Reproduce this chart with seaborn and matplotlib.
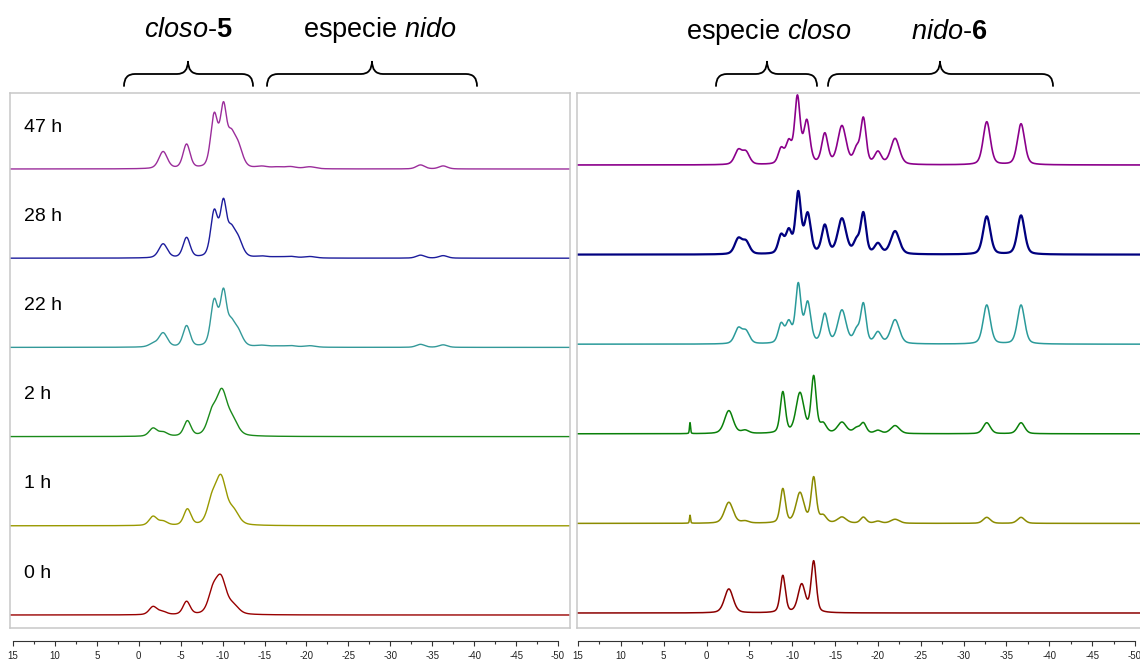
import numpy as np
import pandas as pd
import matplotlib
matplotlib.use("Agg")
import matplotlib.pyplot as plt
from matplotlib.path import Path
from matplotlib.patches import PathPatch
import seaborn as sns

sns.set_style("white")
plt.rcParams['font.family'] = ['Liberation Sans', 'DejaVu Sans']
plt.rcParams['text.color'] = 'black'
plt.rcParams['mathtext.fontset'] = 'custom'
plt.rcParams['mathtext.rm'] = 'Liberation Sans'
plt.rcParams['mathtext.it'] = 'Liberation Sans:italic'
plt.rcParams['mathtext.bf'] = 'Liberation Sans:bold'
plt.rcParams['axes.unicode_minus'] = False

# traces from bottom to top
TIMES = ["0 h", "1 h", "2 h", "22 h", "28 h", "47 h"]
LEFT_COLORS = ["#990000", "#999900", "#1a8a1a", "#339999", "#1c1c9c", "#9b2d9b"]
RIGHT_COLORS = ["#8b0000", "#8b8b00", "#0a800a", "#2a9a9a", "#00007f", "#8b008b"]

# peaks (ppm, height, fwhm)
LEFT_0H = [(-1.7, 8, 1.1), (-2.8, 3, 1.2), (-5.7, 13, 1.0), (-8.8, 19, 1.3),
           (-9.8, 35, 1.5), (-11.3, 8, 1.5)]
LEFT_1H = [(-1.7, 9, 1.1), (-2.9, 4, 1.2), (-5.8, 16, 1.0), (-8.7, 21, 1.3),
           (-9.8, 46, 1.5), (-11.3, 13, 1.5)]
LEFT_2H = [(-1.7, 8, 1.1), (-2.9, 4, 1.2), (-5.8, 15, 1.0), (-8.7, 20, 1.3),
           (-9.9, 43, 1.5), (-11.2, 14, 1.5)]
LEFT_22H = [(-1.7, 3, 1.2), (-2.9, 14, 1.2), (-5.7, 21, 1.0), (-9.0, 45, 1.0),
            (-10.1, 52, 0.9), (-11.0, 18, 1.0), (-11.8, 15, 1.3),
            (-14.7, 1.5, 1.6), (-16.5, 1, 1.6), (-18.1, 1.5, 1.6), (-20.4, 1.5, 1.6),
            (-33.6, 3, 1.2), (-36.3, 2.5, 1.2)]
LEFT_28H = [(-2.9, 14, 1.2), (-5.7, 20, 1.0), (-9.0, 45, 1.0), (-10.1, 52, 0.9),
            (-11.0, 21, 1.0), (-11.8, 18, 1.3),
            (-14.7, 1.5, 1.6), (-16.5, 1, 1.6), (-18.1, 1.5, 1.6), (-20.4, 1.5, 1.6),
            (-33.6, 3, 1.2), (-36.3, 2.5, 1.2)]
LEFT_47H = [(-2.9, 17, 1.2), (-5.7, 24, 1.0), (-9.0, 52, 1.0), (-10.1, 58, 0.9),
            (-11.0, 25, 1.0), (-11.8, 22, 1.3),
            (-14.7, 2, 1.6), (-16.5, 1.5, 1.6), (-18.1, 2, 1.6), (-20.4, 2, 1.6),
            (-33.6, 4, 1.2), (-36.3, 3, 1.2)]

RIGHT_0H = [(-2.6, 24, 1.2), (-8.9, 37, 0.7), (-11.1, 28, 1.0), (-12.5, 51, 0.7)]
RIGHT_1H = [(1.93, 8, 0.15), (-2.6, 21, 1.2), (-4.5, 2, 1.0), (-8.9, 34, 0.7),
            (-10.9, 30, 1.1), (-12.5, 45, 0.7), (-13.6, 7, 0.9), (-15.8, 6, 1.2),
            (-18.3, 6, 0.8), (-20.0, 2, 0.9), (-22.0, 4, 1.2),
            (-32.7, 6, 1.0), (-36.7, 6, 1.0)]
RIGHT_2H = [(1.93, 11, 0.15), (-2.6, 23, 1.2), (-4.5, 3, 1.0), (-8.9, 41, 0.7),
            (-10.9, 40, 1.1), (-12.5, 56, 0.7), (-13.6, 9, 0.9), (-15.8, 11, 1.2),
            (-17.5, 5, 0.9), (-18.3, 10, 0.8), (-20.0, 3, 0.9), (-22.0, 8, 1.2),
            (-32.7, 11, 1.0), (-36.7, 11, 1.0)]
RIGHT_22H = [(-3.7, 15, 1.0), (-4.6, 12, 1.0), (-8.7, 19, 0.8), (-9.6, 20, 0.8),
             (-10.7, 58, 0.75), (-11.8, 40, 0.85), (-13.8, 29, 0.85), (-15.8, 33, 1.15),
             (-17.5, 12, 0.8), (-18.3, 39, 0.75), (-20.0, 11, 0.9), (-22.0, 24, 1.2),
             (-32.7, 39, 1.0), (-36.7, 39, 1.0)]
RIGHT_28H = [(-3.7, 15, 1.0), (-4.6, 12, 1.0), (-8.7, 18, 0.8), (-9.6, 22, 0.8),
             (-10.7, 60, 0.75), (-11.8, 39, 0.85), (-13.8, 28, 0.85), (-15.8, 35, 1.15),
             (-17.5, 12, 0.8), (-18.3, 40, 0.75), (-20.0, 10, 0.9), (-22.0, 23, 1.2),
             (-32.7, 38, 1.0), (-36.7, 39, 1.0)]
RIGHT_47H = [(-3.7, 14, 1.0), (-4.6, 12, 1.0), (-8.7, 15, 0.8), (-9.6, 21, 0.8),
             (-10.6, 66, 0.75), (-11.7, 42, 0.85), (-13.8, 30, 0.85), (-15.8, 38, 1.15),
             (-17.5, 14, 0.8), (-18.3, 45, 0.75), (-20.0, 12, 0.9), (-22.0, 26, 1.2),
             (-32.7, 43, 1.0), (-36.7, 41, 1.0)]

LEFT_PEAKS = [LEFT_0H, LEFT_1H, LEFT_2H, LEFT_22H, LEFT_28H, LEFT_47H]
RIGHT_PEAKS = [RIGHT_0H, RIGHT_1H, RIGHT_2H, RIGHT_22H, RIGHT_28H, RIGHT_47H]

HEADERS_LEFT = [r"$\mathit{closo}$-$\mathbf{5}$", r"especie $\mathit{nido}$"]
HEADERS_RIGHT = [r"especie $\mathit{closo}$", r"$\mathit{nido}$-$\mathbf{6}$"]

PPM_TICKS = [15, 10, 5, 0, -5, -10, -15, -20, -25, -30, -35, -40, -45, -50]


def spectrum(ppm, peaks):
    y = np.zeros_like(ppm)
    for c, h, w in peaks:
        d = (ppm - c) / (w / 2)
        y += h * (0.35 / (1 + d ** 2) + 0.65 * np.exp(-np.log(2) * d ** 2))
    return y


def build_df(peaks_list):
    ppm = np.linspace(16, -52, 6801)
    frames = []
    for label, peaks in zip(TIMES, peaks_list):
        frames.append(pd.DataFrame({"ppm": ppm, "intensity": spectrum(ppm, peaks),
                                    "trace": label}))
    return pd.concat(frames, ignore_index=True)


W, H = 1140, 662
fig = plt.figure(figsize=(W / 100, H / 100), dpi=100)


def px_box(x0, x1, y0, y1):
    return [x0 / W, (H - y1) / H, (x1 - x0) / W, (y1 - y0) / H]


def draw_panel(rect, xlim, peaks_list, colors, offset0, step, lws, labels):
    ax = fig.add_axes(rect)
    df = build_df(peaks_list)
    for i, (label, color) in enumerate(zip(TIMES, colors)):
        sub = df[df["trace"] == label].copy()
        sub["y"] = sub["intensity"] + offset0 + i * step
        sns.lineplot(data=sub, x="ppm", y="y", color=color, lw=lws[i],
                     estimator=None, sort=False, ax=ax, legend=False)
        if labels:
            ax.text(0.025, offset0 + i * step + 42, label, fontsize=14,
                    va="center", ha="left", transform=ax.get_yaxis_transform())
    ax.set_xlim(*xlim)
    ax.set_ylim(0, 535)
    ax.set_xticks([])
    ax.set_yticks([])
    ax.set_xlabel("")
    ax.set_ylabel("")
    for s in ax.spines.values():
        s.set_color("#c8c8c8")
        s.set_linewidth(1.1)
    return ax


def draw_scale(rect, xlim):
    ax = fig.add_axes(rect)
    ax.set_xlim(*xlim)
    ax.set_ylim(0, 1)
    for k in ["left", "right", "top"]:
        ax.spines[k].set_visible(False)
    ax.spines["bottom"].set_bounds(-50, 15)
    ax.spines["bottom"].set_color("#333333")
    ax.spines["bottom"].set_linewidth(0.8)
    ax.set_yticks([])
    ax.set_xticks(PPM_TICKS)
    ax.set_xticklabels([str(t) for t in PPM_TICKS], fontsize=7, color="#222222")
    ax.set_xticks([t - 2.5 for t in PPM_TICKS[:-1]], minor=True)
    ax.tick_params(axis="x", which="major", direction="out", length=3.5,
                   width=0.8, color="#333333", pad=4, bottom=True)
    ax.tick_params(axis="x", which="minor", direction="out", length=1.8,
                   width=0.8, color="#333333", bottom=True)
    ax.patch.set_alpha(0)


left_xlim = (15.36, -51.43)
right_xlim = (15.12, -50.70)

draw_panel(px_box(10, 570, 93, 628), left_xlim, LEFT_PEAKS, LEFT_COLORS,
           13, 89.2, [1.0] * 6, True)
draw_panel(px_box(577, 1141, 93, 628), right_xlim, RIGHT_PEAKS, RIGHT_COLORS,
           15, 89.6, [1.1, 1.1, 1.1, 1.1, 1.6, 1.2], False)

draw_scale([10 / W, (H - 641) / H, 560 / W, 0.0005], left_xlim)
draw_scale([577 / W, (H - 641) / H, 564 / W, 0.0005], right_xlim)

# header braces and labels, in pixel coordinates
over = fig.add_axes([0, 0, 1, 1])
over.set_xlim(0, W)
over.set_ylim(H, 0)
over.axis("off")
over.patch.set_alpha(0)


def brace(xa, xc, xb, ybot=86, ymid=74, ytop=61, r=11):
    verts = [(xa, ybot), (xa, ymid), (xa + r, ymid), (xc - r, ymid),
             (xc, ymid), (xc, ytop), (xc, ymid), (xc + r, ymid),
             (xb - r, ymid), (xb, ymid), (xb, ybot)]
    codes = [Path.MOVETO, Path.CURVE3, Path.CURVE3, Path.LINETO,
             Path.CURVE3, Path.CURVE3, Path.CURVE3, Path.CURVE3,
             Path.LINETO, Path.CURVE3, Path.CURVE3]
    over.add_patch(PathPatch(Path(verts, codes), fill=False, lw=1.3,
                             edgecolor="black", capstyle="round"))


brace(124, 188, 253)
brace(267, 372, 477)
brace(716, 767, 817)
brace(828, 940, 1053)

over.text(188, 37, HEADERS_LEFT[0], fontsize=19.5, ha="center", va="baseline")
over.text(380, 37, HEADERS_LEFT[1], fontsize=19.5, ha="center", va="baseline")
over.text(769, 39, HEADERS_RIGHT[0], fontsize=19.5, ha="center", va="baseline")
over.text(949, 39, HEADERS_RIGHT[1], fontsize=19.5, ha="center", va="baseline")

fig.savefig("out.png", dpi=100, facecolor="white")
